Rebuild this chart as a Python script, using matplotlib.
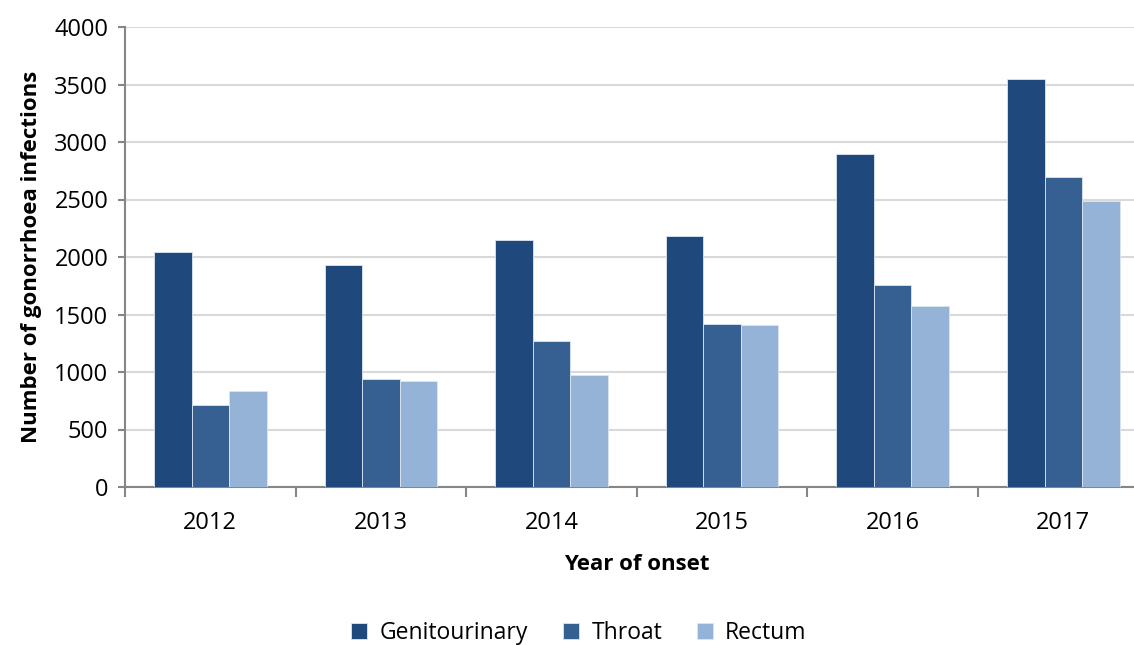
import matplotlib
matplotlib.use("Agg")
import matplotlib.pyplot as plt
import numpy as np

years = ["2012", "2013", "2014", "2015", "2016", "2017"]
series_names = ["Genitourinary", "Throat", "Rectum"]
genitourinary = [2040, 1930, 2145, 2180, 2900, 3550]
throat = [713, 935, 1268, 1415, 1760, 2700]
rectum = [838, 926, 972, 1407, 1578, 2490]
colors = ["#1F497D", "#366092", "#95B3D7"]
yticks = [0, 500, 1000, 1500, 2000, 2500, 3000, 3500, 4000]

plt.rcParams['font.family'] = ['Open Sans', 'DejaVu Sans']

fig = plt.figure(figsize=(11.34, 6.45), dpi=100)
ax = fig.add_axes([125/1134, 158/645, 1023.6/1134, 460/645])

x = np.arange(len(years))
w = 0.22
handles = []
for i, (vals, name, c) in enumerate(zip([genitourinary, throat, rectum], series_names, colors)):
    b = ax.bar(x + (i - 1) * w, vals, width=w, color=c, edgecolor="#dce6f2",
               linewidth=0.6, label=name, zorder=3)
    handles.append(b)

ax.set_xlim(-0.5, len(years) - 0.5)
ax.set_ylim(0, 4000)
ax.set_yticks(yticks)
ax.set_yticklabels([str(v) for v in yticks], fontsize=17)
ax.yaxis.grid(True, color="#d9d9d9", linewidth=1.5, zorder=0)
ax.set_axisbelow(True)

ax.set_xticks(x)
ax.set_xticklabels(years, fontsize=17)
ax.tick_params(axis='x', which='major', length=0, pad=17)
ax.set_xticks(np.arange(-0.5, len(years)), minor=True)
ax.tick_params(axis='x', which='minor', length=7, width=1.5, color="#868686")
ax.tick_params(axis='y', length=5, width=1.5, color="#868686", pad=7)

for s in ["top", "right"]:
    ax.spines[s].set_visible(False)
for s in ["left", "bottom"]:
    ax.spines[s].set_color("#868686")
    ax.spines[s].set_linewidth(1.5)

ax.set_ylabel("Number of gonorrhoea infections", fontsize=16, fontweight="bold", labelpad=9)
ax.set_xlabel("Year of onset", fontsize=16, fontweight="bold", labelpad=14)

fig.legend(handles=handles, labels=series_names, loc="center",
           bbox_to_anchor=(579/1134, 1 - 633/645), ncol=3, frameon=False,
           fontsize=16.5, handlelength=0.7, handleheight=0.7, columnspacing=1.5,
           handletextpad=0.55)

fig.savefig("out.png", dpi=100)
